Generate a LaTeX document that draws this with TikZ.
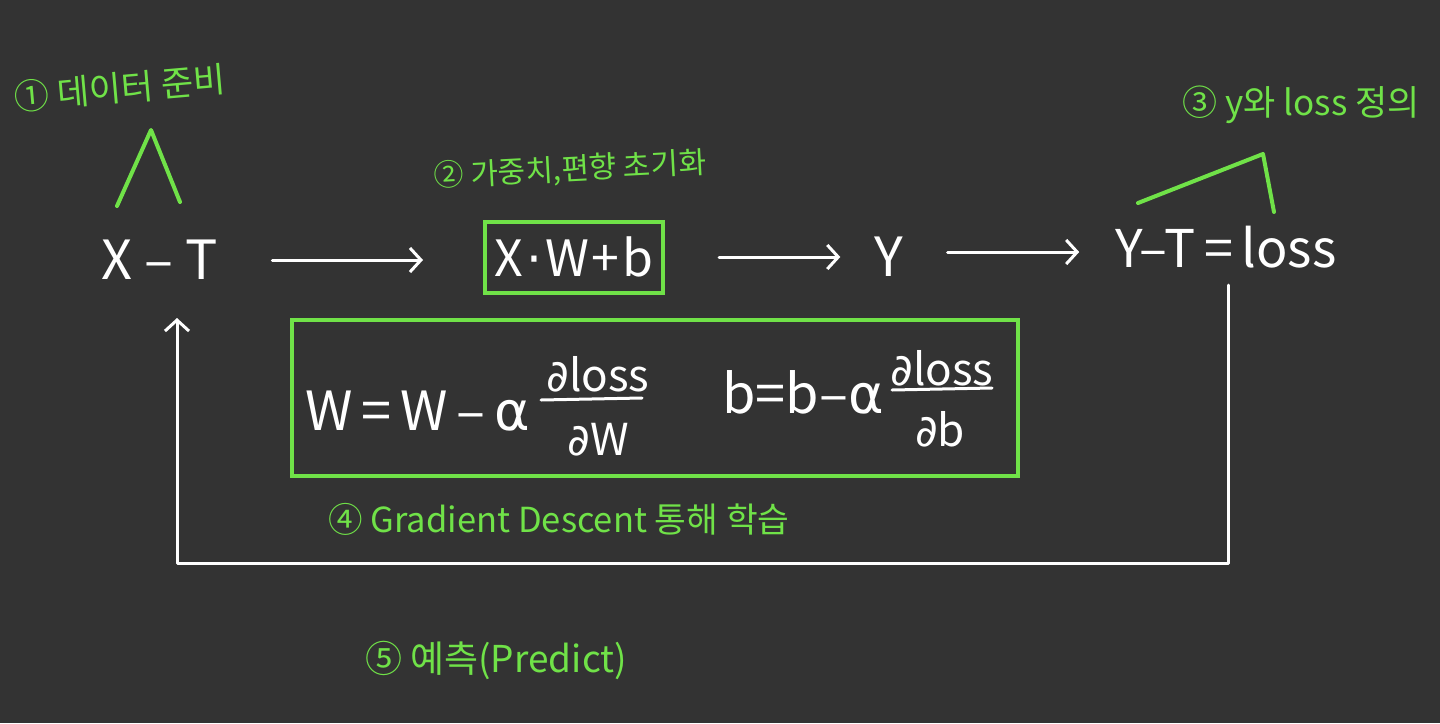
\documentclass[tikz,border=0pt]{standalone}
\usepackage{fontspec}
\setmainfont{Noto Sans CJK KR}
\newfontfamily\dv{DejaVu Sans}
\usetikzlibrary{arrows.meta}
\definecolor{bg}{RGB}{51,51,51}
\definecolor{grn}{RGB}{112,226,72}
\newcommand{\gp}{\hspace{3pt}}
\begin{document}
\begin{tikzpicture}[x=1pt,y=-1pt,
  wtxt/.style={text=white,font=\fontsize{54}{60}\selectfont,inner sep=0pt},
  wsmall/.style={text=white,font=\fontsize{44}{50}\selectfont,inner sep=0pt},
  gtxt/.style={text=grn,inner sep=0pt},
  flow/.style={white,line width=3pt,line cap=round,line join=round,-{Straight Barb[length=11pt,width=24pt,line width=3pt]}},
  fbar/.style={white,line width=3pt,line cap=round},
  gline/.style={grn,line width=4pt,line cap=round,line join=round},
  gbox/.style={draw=grn,line width=4pt,inner sep=0pt}]
\fill[bg] (0,0) rectangle (1440,723);
\useasboundingbox (0,0) rectangle (1440,723);

% main flow
\node[wtxt,minimum width=107] (xt) at (160,260) {X – T};
\node[wtxt,gbox,minimum width=178,minimum height=71,font=\fontsize{50}{56}\selectfont] (xwb) at (574,257) {X\gp{\dv·}\gp W\gp+\gp b};
\node[wtxt,minimum width=37] (y) at (889,257) {Y};
\node[wtxt,minimum width=217,font=\fontsize{52}{58}\selectfont] (loss) at (1226,247) {Y–T\,=\,loss};

\draw[flow,shorten <=54pt,shorten >=60pt] (xt.east) -- (xt.east -| xwb.west);
\draw[flow,shorten <=54pt,shorten >=30pt] (xwb.east) -- (y.west);
\draw[flow,shorten <=40pt,shorten >=36pt] ([yshift=5pt]y.east) -- ([yshift=5pt]y.east -| loss.west);

% labels
\node[gtxt,font=\fontsize{35}{40}\selectfont,rotate=5] (l1) at (120,88) {① 데이터 준비};
\node[gtxt,font=\fontsize{30}{36}\selectfont,rotate=3] (l2) at (570,170) {② 가중치,편향 초기화};
\node[gtxt,font=\fontsize{35}{40}\selectfont] (l3) at (1301,105) {③ y와 loss 정의};
\node[gtxt,font=\fontsize{34.5}{40}\selectfont] (l4) at (559,519) {④ Gradient Descent 통해 학습};
\node[gtxt,font=\fontsize{37}{42}\selectfont] (l5) at (496,660) {⑤ 예측(Predict)};

% green marks
\draw[gline] (117,206) -- (151,130) -- (180,202);
\draw[gline] (1138,203) -- (1263,154) -- (1274,212);

% gradient descent box
\node[gbox,minimum width=726,minimum height=156] (gd) at (655,398) {};
\node[wtxt,anchor=base west] (eqw) at (305,430) {W\,=\,W\,–\,{\dv α}};
\node[wsmall] (nw) at (598,374) {{\dv ∂}loss};
\node[wsmall] (dw) at (598,440) {{\dv ∂}W};
\draw[fbar] (541,400) -- (642,398);
\node[wtxt,anchor=base west] (eqb) at (722,413) {b=b–{\dv α}};
\node[wsmall] (nb) at (942,368) {{\dv ∂}loss};
\node[wsmall] (db) at (940,429) {{\dv ∂}b};
\draw[fbar] (892,390) -- (992,388);

% feedback loop
\coordinate (ls) at (1228,285);
\coordinate (c2) at (177,563);
\coordinate (le) at (177,318);
\draw[flow] (ls) -- (ls |- c2) -- (c2) -- (le);
\end{tikzpicture}
\end{document}
